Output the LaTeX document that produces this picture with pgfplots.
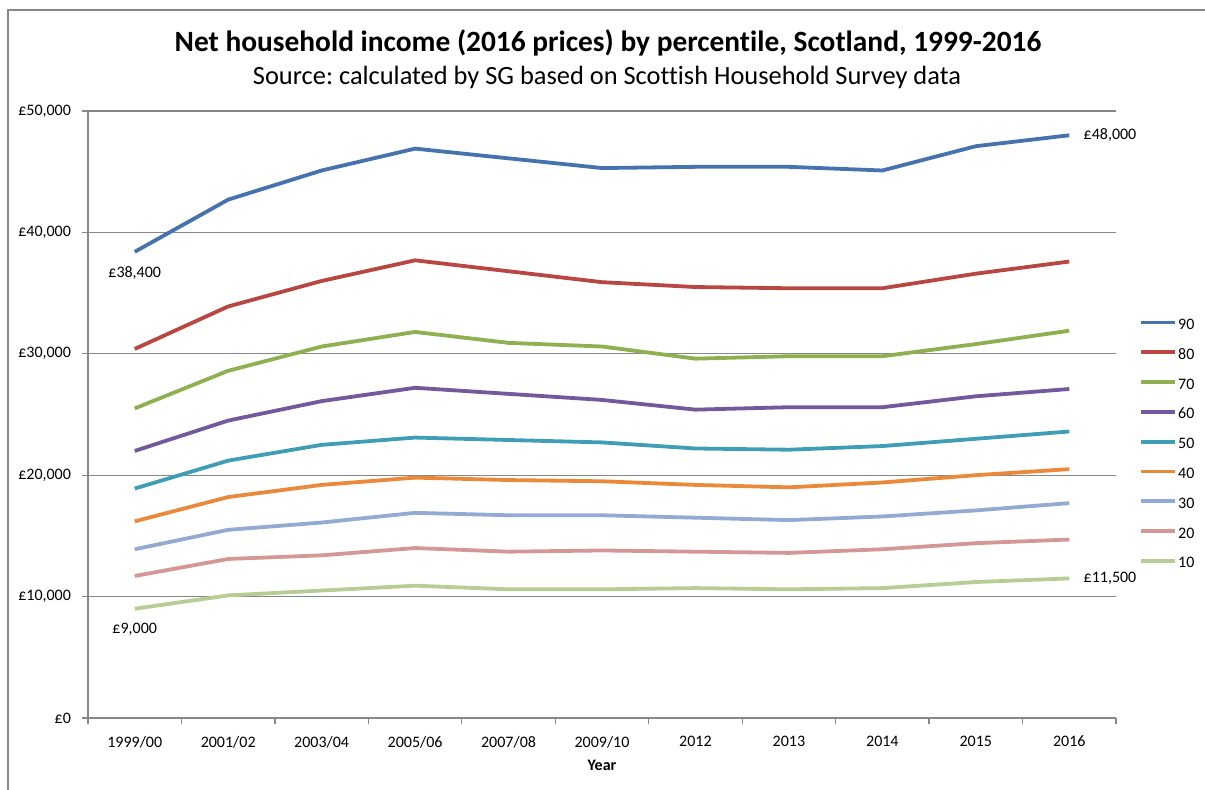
\documentclass[border=0pt]{standalone}
\usepackage{pgfplots}
\pgfplotsset{compat=1.18}
\usepackage{fontspec}
\setmainfont{Carlito}[Ligatures={NoCommon}]
\frenchspacing
\definecolor{c90}{HTML}{4673AD}
\definecolor{c80}{HTML}{B84742}
\definecolor{c70}{HTML}{8FB050}
\definecolor{c60}{HTML}{73589B}
\definecolor{c50}{HTML}{3F9EB6}
\definecolor{c40}{HTML}{EB893B}
\definecolor{c30}{HTML}{93AAD2}
\definecolor{c20}{HTML}{D49795}
\definecolor{c10}{HTML}{B7CD93}
\definecolor{gridc}{HTML}{878787}
\begin{document}
\begin{tikzpicture}[x=0.5pt,y=-0.5pt]
\useasboundingbox (0,0) rectangle (1205,790);
\draw[gridc, line width=0.6pt] (8,790) -- (8,10) -- (1205,10);
\node[font=\bfseries\fontsize{14.7}{16}\selectfont, anchor=base, inner sep=0pt] at (608,52) {Net household income (2016 prices) by percentile, Scotland, 1999-2016};
\node[font=\fontsize{13.2}{16}\selectfont, anchor=base, inner sep=0pt] at (607,85) {Source: calculated by SG based on Scottish Household Survey data};
\begin{axis}[
  at={(44pt,-359pt)}, anchor=south west, scale only axis,
  width=514pt, height=303.5pt,
  xmin=-0.5, xmax=10.5, ymin=0, ymax=50000,
  scaled y ticks=false,
  axis x line*=bottom, axis y line*=left,
  axis line style={gridc, line width=0.6pt, -},
  ytick={0,10000,20000,30000,40000,50000},
  yticklabels={£0,{£10,000},{£20,000},{£30,000},{£40,000},{£50,000}},
  yticklabel style={xshift=-2pt},
  xtick={0,...,10},
  xticklabels={1999/00,2001/02,2003/04,2005/06,2007/08,2009/10,2012,2013,2014,2015,2016},
  xticklabel style={yshift=-2.5pt},
  minor xtick={-0.5,0.5,...,10.5},
  major x tick style={draw=none},
  tick align=outside, major tick length=3pt, minor tick length=3pt,
  tick style={gridc, line width=0.6pt},
  ymajorgrids, grid style={gridc, line width=0.6pt},
  tick label style={font=\fontsize{8}{9}\selectfont},
  xlabel={Year},
  xlabel style={font=\bfseries\fontsize{8}{9}\selectfont, at={(axis description cs:0.5,0)}, anchor=center, yshift=-23.5pt},
  clip=false,
  legend style={at={(1.0224,0.6573)}, anchor=north west, draw=none, fill=none, inner sep=0pt,
    row sep=9.9pt, column sep=0pt, font=\fontsize{8}{9}\selectfont,
    nodes={inner xsep=0.5pt, inner ysep=0pt, text height=5pt, text depth=0pt}},
  legend cell align=left,
  legend image code/.code={\draw[#1] (0pt,1pt) -- (17pt,1pt);},
  every axis plot/.append style={line width=1.9pt, line join=round, no markers},
]
\addplot[c90] coordinates {(0,38400)(1,42700)(2,45100)(3,46900)(4,46100)(5,45300)(6,45400)(7,45400)(8,45100)(9,47100)(10,48000)};
\addlegendentry{90}
\addplot[c80] coordinates {(0,30400)(1,33900)(2,36000)(3,37700)(4,36800)(5,35900)(6,35500)(7,35400)(8,35400)(9,36600)(10,37600)};
\addlegendentry{80}
\addplot[c70] coordinates {(0,25500)(1,28600)(2,30600)(3,31800)(4,30900)(5,30600)(6,29600)(7,29800)(8,29800)(9,30800)(10,31900)};
\addlegendentry{70}
\addplot[c60] coordinates {(0,22000)(1,24500)(2,26100)(3,27200)(4,26700)(5,26200)(6,25400)(7,25600)(8,25600)(9,26500)(10,27100)};
\addlegendentry{60}
\addplot[c50] coordinates {(0,18900)(1,21200)(2,22500)(3,23100)(4,22900)(5,22700)(6,22200)(7,22100)(8,22400)(9,23000)(10,23600)};
\addlegendentry{50}
\addplot[c40] coordinates {(0,16200)(1,18200)(2,19200)(3,19800)(4,19600)(5,19500)(6,19200)(7,19000)(8,19400)(9,20000)(10,20500)};
\addlegendentry{40}
\addplot[c30] coordinates {(0,13900)(1,15500)(2,16100)(3,16900)(4,16700)(5,16700)(6,16500)(7,16300)(8,16600)(9,17100)(10,17700)};
\addlegendentry{30}
\addplot[c20] coordinates {(0,11700)(1,13100)(2,13400)(3,14000)(4,13700)(5,13800)(6,13700)(7,13600)(8,13900)(9,14400)(10,14700)};
\addlegendentry{20}
\addplot[c10] coordinates {(0,9000)(1,10100)(2,10500)(3,10900)(4,10600)(5,10600)(6,10700)(7,10600)(8,10700)(9,11200)(10,11500)};
\addlegendentry{10}
\node[font=\fontsize{8}{9}\selectfont, inner sep=0pt, yshift=-10.5pt] at (axis cs:0,38400) {£38,400};
\node[font=\fontsize{8}{9}\selectfont, inner sep=0pt, yshift=-10.5pt] at (axis cs:0,9000) {£9,000};
\node[font=\fontsize{8}{9}\selectfont, inner sep=0pt, anchor=west, xshift=7pt] at (axis cs:10,48000) {£48,000};
\node[font=\fontsize{8}{9}\selectfont, inner sep=0pt, anchor=west, xshift=7pt] at (axis cs:10,11500) {£11,500};
\end{axis}
\end{tikzpicture}
\end{document}
